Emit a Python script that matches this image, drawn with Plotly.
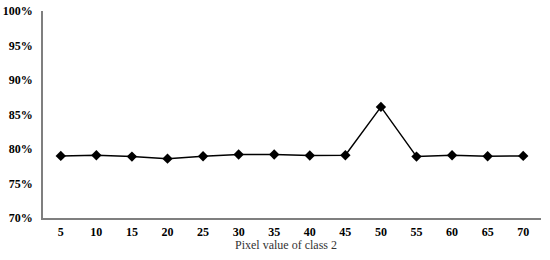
import plotly.graph_objects as go

# Accuracy vs pixel value of class 2
pixel_values = ["5", "10", "15", "20", "25", "30", "35", "40", "45", "50", "55", "60", "65", "70"]
accuracy = [79.0, 79.1, 78.9, 78.6, 78.95, 79.2, 79.2, 79.05, 79.1, 86.1, 78.9, 79.1, 78.95, 79.0]
y_ticks = [70, 75, 80, 85, 90, 95, 100]
y_labels = ["70%", "75%", "80%", "85%", "90%", "95%", "100%"]

fig = go.Figure()

fig.add_trace(go.Scatter(
    x=pixel_values,
    y=accuracy,
    mode="lines+markers",
    line=dict(color="black", width=1.5),
    marker=dict(symbol="diamond", size=8, color="black"),
    showlegend=False,
))

# axis title as an annotation so it sits close to the tick labels
fig.add_annotation(
    text="Pixel value of class 2",
    xref="paper", yref="paper",
    x=0.488, y=0,
    xanchor="center", yanchor="top",
    yshift=-18,
    showarrow=False,
    font=dict(size=12, family="Liberation Serif", color="#333333"),
)

fig.update_layout(
    width=550,
    height=260,
    margin=dict(l=43, r=9, t=11, b=42),
    plot_bgcolor="white",
    paper_bgcolor="white",
    font=dict(family="Liberation Serif", color="black"),
    xaxis=dict(
        type="category",
        range=[-0.5, len(pixel_values) - 0.5],
        automargin=False,
        showline=True,
        linecolor="#7f7f7f",
        linewidth=1.5,
        showgrid=False,
        zeroline=False,
        ticks="",
        ticklabelstandoff=2,
        tickfont=dict(size=12, family="Liberation Serif", weight="bold"),
    ),
    yaxis=dict(
        range=[70, 100],
        automargin=False,
        tickvals=y_ticks,
        ticktext=y_labels,
        showline=True,
        linecolor="#7f7f7f",
        linewidth=1.5,
        showgrid=False,
        zeroline=False,
        ticks="",
        ticklabelstandoff=6,
        tickfont=dict(size=12, family="Liberation Serif", weight="bold"),
    ),
)

# drop the default 8px page margin so the figure fills the window
fig.write_html(
    "out.html",
    config={"displayModeBar": False},
    post_script="document.body.style.margin='0px';",
)
